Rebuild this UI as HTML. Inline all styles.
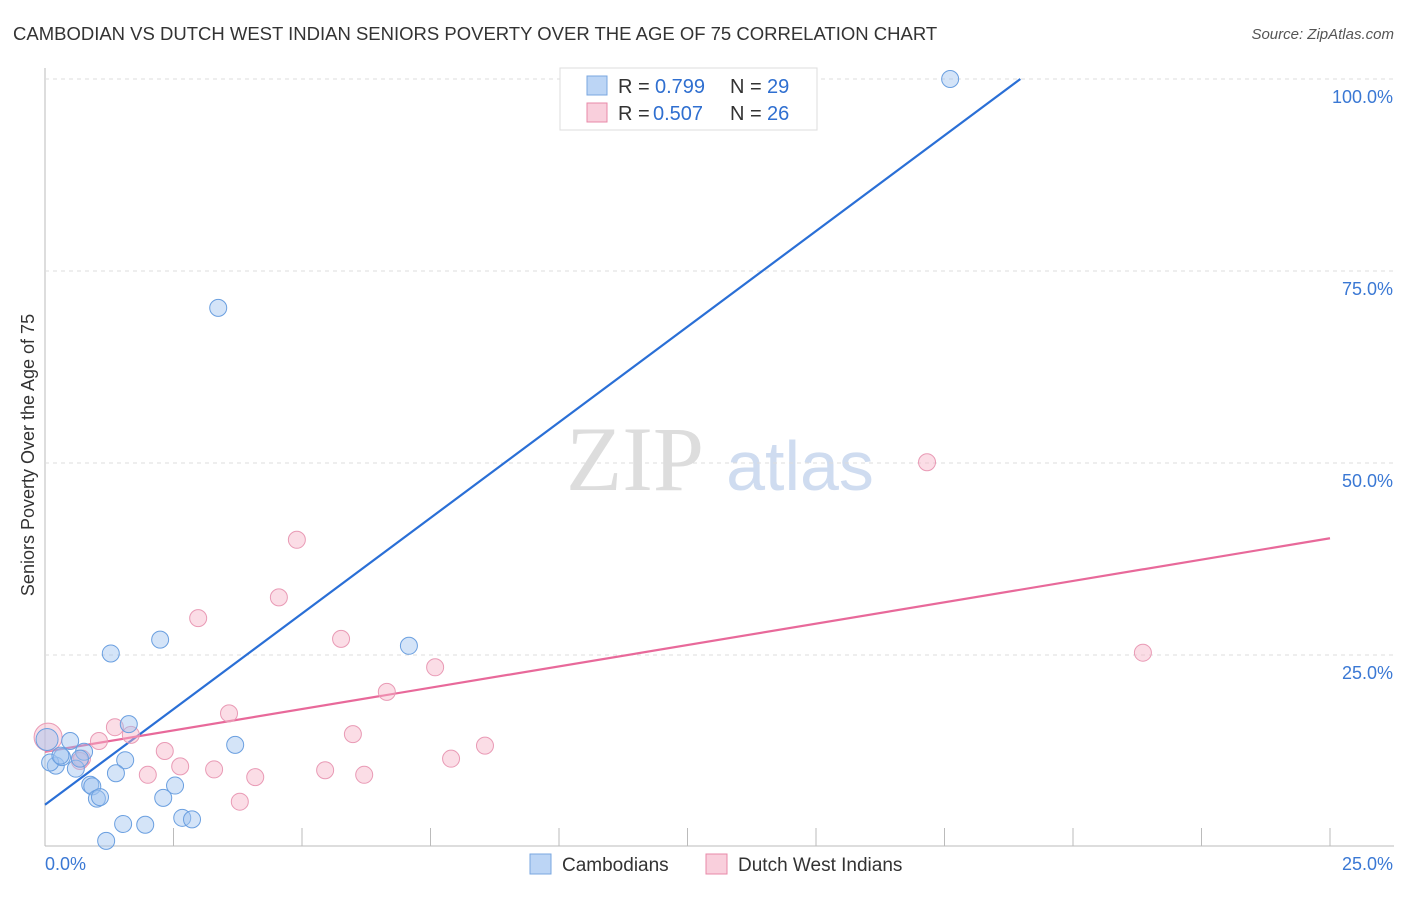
<!DOCTYPE html>
<html><head><meta charset="utf-8"><style>
body{margin:0;background:#fff;font-family:"Liberation Sans",sans-serif;}
</style></head><body>
<svg id="chart" width="1406" height="892" xmlns="http://www.w3.org/2000/svg" font-family="Liberation Sans, sans-serif">
<text x="13" y="40" font-size="18.5" fill="#333">CAMBODIAN VS DUTCH WEST INDIAN SENIORS POVERTY OVER THE AGE OF 75 CORRELATION CHART</text>
<text x="1394" y="39" font-size="15" fill="#555" font-style="italic" text-anchor="end">Source: ZipAtlas.com</text>
<text x="635" y="490" font-size="92" fill="#ddd" font-family="Liberation Serif, serif" text-anchor="middle">ZIP</text>
<text x="800" y="490" font-size="70" fill="#cfdcf0" text-anchor="middle">atlas</text>
<text transform="translate(34,455) rotate(-90)" font-size="18" fill="#333" text-anchor="middle">Seniors Poverty Over the Age of 75</text>
<g id="grid"></g><g id="lines"></g><g id="pts"></g>
<g>
<rect x="560" y="68" width="257" height="62" fill="#fff" stroke="#ddd"/>
<rect x="587" y="76" width="20" height="19" fill="#bcd5f5" stroke="#7aa7e0"/>
<text y="93" font-size="20" fill="#333"><tspan x="618">R = </tspan><tspan x="655" fill="#2f6fd0">0.799</tspan><tspan x="730">N = </tspan><tspan x="767" fill="#2f6fd0">29</tspan></text>
<rect x="587" y="103" width="20" height="19" fill="#f9cfdc" stroke="#e88aa8"/>
<text y="120" font-size="20" fill="#333"><tspan x="618">R = </tspan><tspan x="653" fill="#2f6fd0">0.507</tspan><tspan x="730">N = </tspan><tspan x="767" fill="#2f6fd0">26</tspan></text>
</g>
<g>
<rect x="530" y="854" width="21" height="20" fill="#bcd5f5" stroke="#7aa7e0"/>
<text x="562" y="871" font-size="19" fill="#333">Cambodians</text>
<rect x="706" y="854" width="21" height="20" fill="#f9cfdc" stroke="#e88aa8"/>
<text x="738" y="871" font-size="19" fill="#333">Dutch West Indians</text>
</g>
</svg>
<script>
const yTicks=[25,50,75,100];
const xTickLabels=["0.0%","25.0%"];
const blueX=[17.61,3.37,2.24,1.28,7.08,1.63,3.70,1.56,1.38,0.76,0.49,0.21,0.10,0.33,0.60,0.68,0.88,0.92,1.01,1.07,2.30,2.53,2.67,2.86,1.52,1.95,1.19,0.04,0.30];
const blueY=[100,70.2,27.0,25.2,26.2,16.0,13.3,11.3,9.6,12.4,13.8,10.6,11.0,11.7,10.2,11.5,8.1,7.9,6.3,6.5,6.4,8.0,3.8,3.6,3.0,2.9,0.8,14.0,11.9];
const pinkX=[17.16,4.90,4.55,2.98,5.76,7.59,6.65,21.36,3.58,1.36,5.99,1.05,1.67,2.33,8.56,7.90,2.63,3.29,4.09,2.00,5.45,6.21,3.79,0.72,0.06,0.68];
const pinkY=[50.1,40.0,32.5,29.8,27.1,23.4,20.2,25.3,17.4,15.6,14.7,13.8,14.6,12.5,13.2,11.5,10.5,10.1,9.1,9.4,10.0,9.4,5.9,11.5,14.3,11.2];
const blueLine=[5.5,4.98];
const pinkLine=[12.4,1.112];
const NS="http://www.w3.org/2000/svg";
const X=v=>45+v/25*1285, Y=v=>847-v*7.68;
function mk(p,t,a){const e=document.createElementNS(NS,t);for(const k in a)e.setAttribute(k,a[k]);p.appendChild(e);return e;}
const g=document.getElementById('grid');
mk(g,'line',{x1:45,y1:68,x2:45,y2:846,stroke:'#bbb'});
mk(g,'line',{x1:45,y1:846,x2:1394,y2:846,stroke:'#bbb'});
yTicks.forEach(t=>{
 const l=mk(g,'line',{x1:45,y1:Y(t),x2:1394,y2:Y(t),stroke:'#ddd','stroke-dasharray':'4,4'});
 
 
 const tx=mk(g,'text',{x:1393,y:Y(t)+24,'font-size':18,fill:'#3a78d4','text-anchor':'end'});
 tx.textContent=t.toFixed(1)+'%';
 
 
});
for(let i=0;i<=10;i++){mk(g,'line',{x1:X(i*2.5),y1:828,x2:X(i*2.5),y2:846,stroke:'#bbb'});}
const xl0=mk(g,'text',{x:45,y:870,'font-size':18,fill:'#3a78d4'});xl0.textContent=xTickLabels[0];


const xl1=mk(g,'text',{x:1393,y:870,'font-size':18,fill:'#3a78d4','text-anchor':'end'});xl1.textContent=xTickLabels[1];


const L=document.getElementById('lines');
const xEnd=(100-blueLine[0])/blueLine[1];
const bl=mk(L,'line',{x1:X(0),y1:Y(blueLine[0]),x2:X(xEnd),y2:Y(100),stroke:'#2a6fd6','stroke-width':2.2});


const pl=mk(L,'line',{x1:X(0),y1:Y(pinkLine[0]),x2:X(25),y2:Y(pinkLine[0]+25*pinkLine[1]),stroke:'#e8699a','stroke-width':2.2});


const P=document.getElementById('pts');
pinkX.forEach((x,i)=>{
 const c=mk(P,'circle',{cx:X(x),cy:Y(pinkY[i]),r:i==24?14:8.5,fill:'rgba(246,180,200,0.45)',stroke:'#e99ab5','stroke-width':1});
 
 
});
blueX.forEach((x,i)=>{
 const c=mk(P,'circle',{cx:X(x),cy:Y(blueY[i]),r:i==27?11:8.5,fill:'rgba(160,196,240,0.45)',stroke:'#6a9fe0','stroke-width':1});
 
 
});
</script>
</body></html>
